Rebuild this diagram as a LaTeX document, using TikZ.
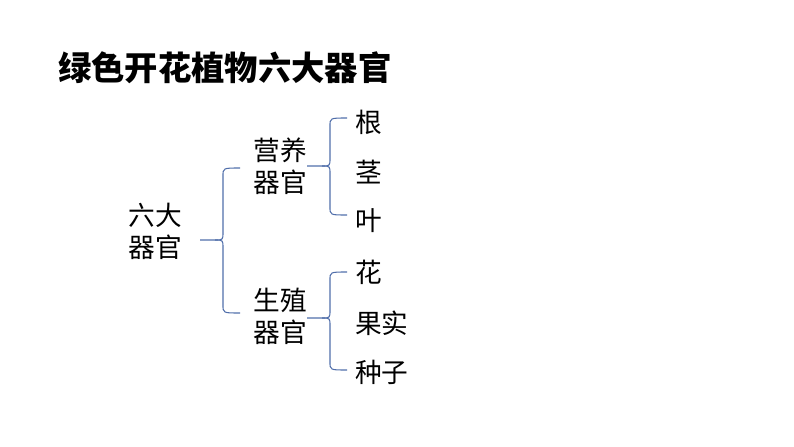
\documentclass[tikz,border=0pt]{standalone}
\usepackage{fontspec}
\setmainfont{Noto Sans CJK SC}
\newcommand{\mybrace}[5]{% tipx, y, spinex, top, bottom
  \draw[br] (#1,#2) -- (#3-8,#2) .. controls (#3,#2) .. (#3,#2-8) -- (#3,#4+8) .. controls (#3,#4) .. (#3+17,#4);
  \draw[br] (#3-8,#2) .. controls (#3,#2) .. (#3,#2+8) -- (#3,#5-8) .. controls (#3,#5) .. (#3+17,#5);}
\begin{document}
\begin{tikzpicture}[x=0.75pt,y=-0.75pt,
  txt/.style={font=\fontsize{20}{24}\selectfont,inner sep=0pt,align=center},
  br/.style={draw={rgb,255:red,80;green,110;blue,170},line width=0.8pt}]
\useasboundingbox (0,0) rectangle (794,447);
\node[anchor=west,font=\fontsize{25}{30}\selectfont\bfseries,inner sep=0pt] (title) at (58,68) {绿色开花植物六大器官};
\node[txt] (root) at (155,231) {六大\\器官};
\node[txt] (veg) at (280,166) {营养\\器官};
\node[txt] (rep) at (280,316) {生殖\\器官};
\node[txt,anchor=west] (a1) at (355,122) {根};
\node[txt,anchor=west] (a2) at (355,172) {茎};
\node[txt,anchor=west] (a3) at (355,221) {叶};
\node[txt,anchor=west] (b1) at (355,272) {花};
\node[txt,anchor=west] (b2) at (355,323) {果实};
\node[txt,anchor=west] (b3) at (355,372) {种子};
\mybrace{200}{240}{223}{168}{313}
\mybrace{307}{166}{330}{118}{215}
\mybrace{307}{318}{330}{272}{370}
\end{tikzpicture}
\end{document}
